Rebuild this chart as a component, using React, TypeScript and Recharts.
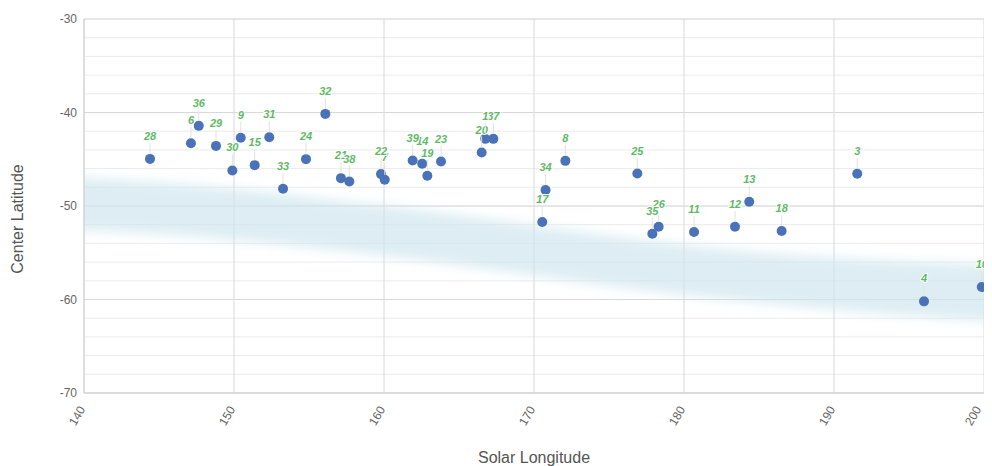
import React from "react";
import {
  ComposedChart,
  Scatter,
  Area,
  XAxis,
  YAxis,
  CartesianGrid,
  LabelList,
} from "recharts";

// Observation numbers with solar longitude (deg) and center latitude (deg);
// labels are painted in this order, later ones on top
const obsIds = [
  3, 4, 6, 7, 8, 9, 10, 11, 12, 13, 14, 15, 17, 18, 19, 20, 21, 22, 23, 24,
  25, 26, 28, 29, 30, 31, 32, 33, 34, 35, 36, 37, 38, 39, 1,
];
const solarLon = [
  191.55, 196.0, 147.13, 160.05, 172.09, 150.45, 199.85, 180.67, 183.4,
  184.35, 162.55, 151.38, 170.55, 186.51, 162.89, 166.51, 157.13, 159.8, 163.8,
  154.8, 176.89, 178.31, 144.4, 148.8, 149.89, 152.35, 156.09, 153.27, 170.77,
  177.89, 147.65, 167.29, 157.69, 161.91, 166.75,
];
const centerLat = [
  -46.56, -60.2, -43.28, -47.2, -45.17, -42.71, -58.66, -52.79, -52.22,
  -49.55, -45.49, -45.63, -51.72, -52.68, -46.77, -44.28, -47.02, -46.59, -45.25,
  -44.99, -46.53, -52.22, -44.96, -43.57, -46.2, -42.64, -40.15, -48.16, -48.3,
  -52.97, -41.43, -42.82, -47.38, -45.14, -42.82,
];

// Expected latitude band (upper / lower edge) across solar longitude
const bandLon = [136, 140, 145, 150, 155, 160, 165, 170, 175, 180, 185, 190, 195, 200, 204];
const bandHigh = [-46.6, -47.0, -47.5, -48.2, -49.1, -50.0, -51.0, -52.1, -53.2, -54.2, -55.0, -55.6, -56.0, -56.3, -56.5];
const bandLow = [-52.3, -52.6, -53.0, -53.6, -54.4, -55.3, -56.3, -57.4, -58.5, -59.5, -60.3, -61.1, -61.7, -62.2, -62.5];

const xTicks = [140, 150, 160, 170, 180, 190, 200];
const yTicks = [-70, -68, -66, -64, -62, -60, -58, -56, -54, -52, -50, -48, -46, -44, -42, -40, -38, -36, -34, -32, -30];
const yMajor = [-70, -60, -50, -40, -30];

const points = obsIds.map((id, i) => ({ id, x: solarLon[i], y: centerLat[i] }));
const band = bandLon.map((x, i) => ({ x, band: [bandLow[i], bandHigh[i]] }));

const FONT = '"Liberation Sans", Arial, Helvetica, sans-serif';

const Dot = (p: any) => <circle cx={p.cx} cy={p.cy} r={5} fill="#4a72b8" />;

const PointLabel = (props: any) => {
  const vb = props.viewBox ?? props;
  const cx = vb.cx ?? vb.x + (vb.width ?? 0) / 2;
  const cy = vb.cy ?? vb.y + (vb.height ?? 0) / 2;
  return (
    <g>
      <line x1={cx} y1={cy - 5} x2={cx} y2={cy - 16} stroke="#e2e2e2" />
      <text
        x={cx}
        y={cy - 19}
        textAnchor="middle"
        fontFamily={FONT}
        fontSize={11}
        fontStyle="italic"
        fontWeight="bold"
        fill="#5fba66"
        stroke="#fff"
        strokeWidth={2}
        strokeLinejoin="round"
        paintOrder="stroke"
      >
        {props.value}
      </text>
    </g>
  );
};

const XTick = ({ x, y, payload }: any) => (
  <g transform={`translate(${x - 2},${y + 6})`}>
    <text
      transform="rotate(-60)"
      textAnchor="end"
      dy="0.35em"
      fontFamily={FONT}
      fontSize={12}
      fill="#666"
    >
      {payload.value}
    </text>
  </g>
);

export default function App() {
  return (
    <div style={{ margin: "-8px -8px 0 -8px", background: "#fff" }}>
      <ComposedChart
        width={992}
        height={466}
        data={band}
        margin={{ top: 19, right: 8, bottom: 0, left: 0 }}
      >
        <defs>
          <filter id="bandBlur" x="-10%" y="-40%" width="120%" height="180%">
            <feGaussianBlur stdDeviation="6" />
          </filter>
        </defs>
        <CartesianGrid vertical={false} stroke="#ebebeb" />
        <CartesianGrid
          horizontalValues={yMajor}
          verticalValues={xTicks}
          stroke="#d8d8d8"
        />
        <XAxis
          type="number"
          dataKey="x"
          domain={[140, 200]}
          ticks={xTicks}
          tick={<XTick />}
          tickLine={false}
          axisLine={{ stroke: "#d0d0d0" }}
          height={73}
          label={({ viewBox }: any) => (
            <text
              x={viewBox.x + viewBox.width / 2}
              y={463}
              textAnchor="middle"
              fontFamily={FONT}
              fontSize={16}
              fill="#555"
            >
              Solar Longitude
            </text>
          )}
        />
        <XAxis
          xAxisId="band"
          type="number"
          dataKey="x"
          domain={[140, 200]}
          allowDataOverflow
          hide
        />
        <YAxis
          type="number"
          domain={[-70, -30]}
          ticks={yTicks}
          interval={0}
          tickFormatter={(v: number) => (v % 10 === 0 ? String(v) : "")}
          tick={{ fill: "#666", fontSize: 12, fontFamily: FONT }}
          tickLine={false}
          tickSize={0}
          tickMargin={7}
          axisLine={{ stroke: "#d0d0d0" }}
          width={84}
          label={({ viewBox }: any) => {
            const cx = 17.5;
            const cy = viewBox.y + viewBox.height / 2 + 13;
            return (
              <text
                x={cx}
                y={cy}
                transform={`rotate(-90, ${cx}, ${cy})`}
                textAnchor="middle"
                dominantBaseline="central"
                fontFamily={FONT}
                fontSize={16}
                fill="#555"
              >
                Center Latitude
              </text>
            );
          }}
        />
        <Area
          xAxisId="band"
          dataKey="band"
          type="monotone"
          stroke="none"
          fill="#cfe5ee"
          fillOpacity={0.7}
          filter="url(#bandBlur)"
          isAnimationActive={false}
          activeDot={false}
        />
        <Scatter data={points} dataKey="y" shape={<Dot />} isAnimationActive={false}>
          <LabelList dataKey="id" content={<PointLabel />} />
        </Scatter>
      </ComposedChart>
    </div>
  );
}
